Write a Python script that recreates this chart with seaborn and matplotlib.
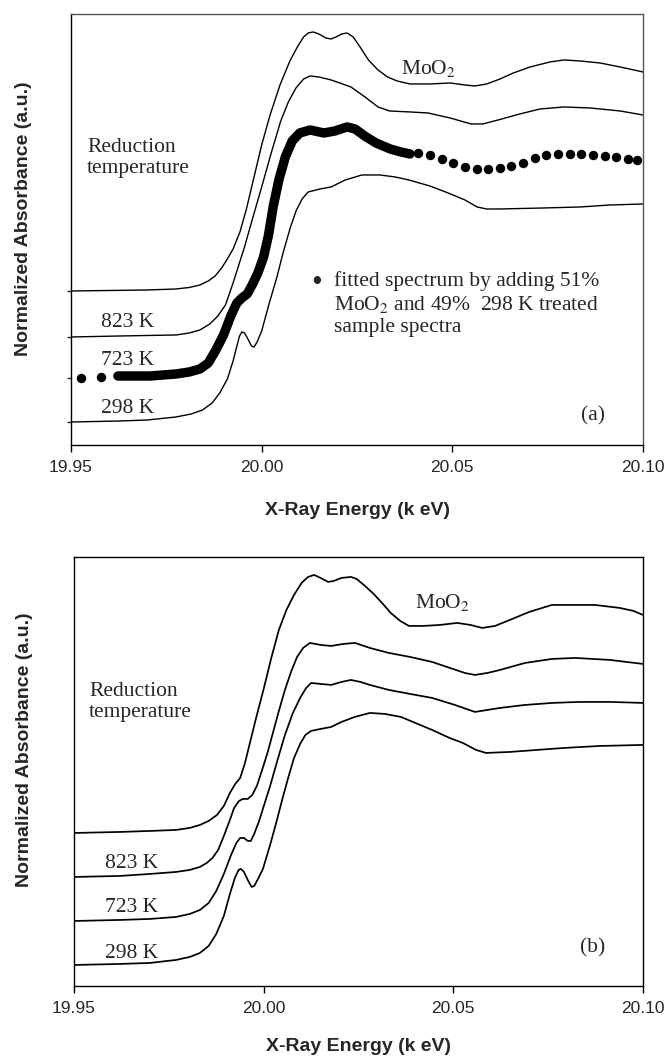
import matplotlib
matplotlib.use("Agg")
import matplotlib.pyplot as plt
import seaborn as sns

sns.set_theme(style="white")
plt.rcParams['font.family'] = ['Liberation Sans', 'DejaVu Sans']
plt.rcParams['mathtext.fontset'] = 'stix'

# ---------------- panel (a) data : energy (keV) / normalized absorbance (stacked, a.u.)
a_moo2_E = [19.9500, 19.9600, 19.9700, 19.9775, 19.9810, 19.9838, 19.9860, 19.9878, 19.9895,
            19.9910, 19.9925, 19.9943, 19.9960, 19.9980, 20.0000, 20.0022, 20.0048, 20.0074,
            20.0095, 20.0110, 20.0122, 20.0135, 20.0150, 20.0168, 20.0182, 20.0195, 20.0210,
            20.0224, 20.0240, 20.0258, 20.0280, 20.0305, 20.0330, 20.0355, 20.0389, 20.0441,
            20.0494, 20.0533, 20.0559, 20.0590, 20.0625, 20.0660, 20.0704, 20.0756, 20.0793,
            20.0835, 20.0887, 20.0940, 20.1000]
a_moo2_A = [1.54, 1.545, 1.55, 1.56, 1.575, 1.60, 1.64, 1.69, 1.77,
            1.86, 1.96, 2.13, 2.36, 2.68, 3.00, 3.30, 3.60, 3.84,
            3.99, 4.08, 4.12, 4.13, 4.11, 4.07, 4.06, 4.08, 4.11,
            4.12, 4.08, 3.98, 3.85, 3.75, 3.68, 3.64, 3.61, 3.61,
            3.62, 3.60, 3.59, 3.61, 3.66, 3.72, 3.78, 3.83, 3.85,
            3.84, 3.82, 3.78, 3.73]

a_823_E = [19.9500, 19.9628, 19.9700, 19.9775, 19.9810, 19.9838, 19.9864, 19.9885, 19.9905,
           19.9925, 19.9940, 19.9955, 19.9975, 20.0000, 20.0025, 20.0050, 20.0070, 20.0090,
           20.0110, 20.0127, 20.0150, 20.0182, 20.0205, 20.0234, 20.0271, 20.0305, 20.0335,
           20.0390, 20.0436, 20.0494, 20.0549, 20.0580, 20.0620, 20.0677, 20.0730, 20.0793,
           20.0861, 20.0940, 20.1000]
a_823_A = [1.08, 1.09, 1.095, 1.10, 1.12, 1.15, 1.21, 1.29, 1.40,
           1.62, 1.80, 1.98, 2.25, 2.58, 2.92, 3.24, 3.43, 3.57,
           3.66, 3.69, 3.68, 3.65, 3.62, 3.58, 3.48, 3.38, 3.34,
           3.33, 3.32, 3.27, 3.21, 3.21, 3.25, 3.31, 3.36, 3.38,
           3.37, 3.34, 3.30]

# fitted spectrum (51 % MoO2 + 49 % 298 K) - finely sampled edge region
a_fit_E = [19.9623, 19.9707, 19.9775, 19.9810, 19.9838, 19.9860, 19.9880, 19.9900, 19.9920,
           19.9935, 19.9948, 19.9962, 19.9975, 19.9990, 20.0005, 20.0018, 20.0030, 20.0045,
           20.0062, 20.0080, 20.0100, 20.0127, 20.0163, 20.0192, 20.0224, 20.0245, 20.0270,
           20.0300, 20.0337, 20.0365, 20.0389]
a_fit_A = [0.69, 0.69, 0.71, 0.73, 0.76, 0.82, 0.95, 1.10, 1.30,
           1.42, 1.47, 1.51, 1.60, 1.72, 1.88, 2.10, 2.38, 2.65,
           2.88, 3.04, 3.12, 3.15, 3.12, 3.14, 3.18, 3.16, 3.09,
           3.02, 2.96, 2.93, 2.91]
# fitted spectrum - coarsely sampled points (pre-edge and EXAFS region)
a_fitpts_E = [19.9526, 19.9579, 20.0410, 20.0441, 20.0473, 20.0502, 20.0533, 20.0565, 20.0594,
              20.0625, 20.0654, 20.0685, 20.0717, 20.0746, 20.0777, 20.0809, 20.0837, 20.0869,
              20.0900, 20.0929, 20.0961, 20.0984]
a_fitpts_A = [0.67, 0.68, 2.92, 2.90, 2.86, 2.82, 2.78, 2.76, 2.76,
              2.77, 2.79, 2.82, 2.87, 2.90, 2.91, 2.91, 2.91, 2.90,
              2.89, 2.88, 2.86, 2.85]

a_298_E = [19.9500, 19.9628, 19.9700, 19.9775, 19.9815, 19.9845, 19.9870, 19.9890, 19.9910,
           19.9925, 19.9935, 19.9942, 19.9948, 19.9955, 19.9964, 19.9973, 19.9980, 19.9988,
           20.0000, 20.0020, 20.0040, 20.0056, 20.0074, 20.0090, 20.0106, 20.0122, 20.0153,
           20.0182, 20.0219, 20.0263, 20.0310, 20.0350, 20.0386, 20.0441, 20.0489, 20.0533,
           20.0565, 20.0590, 20.0625, 20.0740, 20.0835, 20.0913, 20.1000]
a_298_A = [0.23, 0.24, 0.25, 0.28, 0.31, 0.35, 0.42, 0.52, 0.66,
           0.84, 0.99, 1.09, 1.13, 1.12, 1.06, 0.99, 0.98, 1.03,
           1.14, 1.42, 1.68, 1.92, 2.16, 2.34, 2.46, 2.53, 2.56,
           2.58, 2.65, 2.70, 2.70, 2.68, 2.65, 2.59, 2.52, 2.45,
           2.38, 2.36, 2.36, 2.37, 2.38, 2.40, 2.41]

# ---------------- panel (b) data
b_moo2_E = [19.9503, 19.9621, 19.9700, 19.9769, 19.9805, 19.9832, 19.9855, 19.9877, 19.9895,
            19.9911, 19.9925, 19.9938, 19.9950, 19.9965, 19.9980, 20.0000, 20.0020, 20.0040,
            20.0060, 20.0080, 20.0100, 20.0117, 20.0133, 20.0150, 20.0170, 20.0185, 20.0205,
            20.0230, 20.0245, 20.0267, 20.0290, 20.0312, 20.0335, 20.0360, 20.0383, 20.0420,
            20.0465, 20.0510, 20.0545, 20.0576, 20.0610, 20.0649, 20.0700, 20.0760, 20.0831,
            20.0873, 20.0939, 20.0975, 20.1000]
b_moo2_A = [1.53, 1.54, 1.55, 1.56, 1.58, 1.61, 1.65, 1.71, 1.80,
            1.93, 2.02, 2.08, 2.22, 2.45, 2.68, 2.97, 3.28, 3.56,
            3.76, 3.91, 4.03, 4.09, 4.11, 4.08, 4.04, 4.05, 4.08,
            4.09, 4.07, 4.00, 3.92, 3.83, 3.73, 3.65, 3.60, 3.60,
            3.61, 3.63, 3.61, 3.58, 3.60, 3.66, 3.74, 3.81, 3.81,
            3.81, 3.78, 3.75, 3.71]

b_823_E = [19.9503, 19.9621, 19.9700, 19.9769, 19.9805, 19.9832, 19.9850, 19.9865, 19.9880,
           19.9895, 19.9910, 19.9922, 19.9935, 19.9945, 19.9958, 19.9970, 19.9982, 19.9995,
           20.0010, 20.0025, 20.0040, 20.0056, 20.0072, 20.0088, 20.0104, 20.0122, 20.0150,
           20.0178, 20.0210, 20.0241, 20.0280, 20.0330, 20.0386, 20.0444, 20.0491, 20.0530,
           20.0557, 20.0590, 20.0623, 20.0689, 20.0760, 20.0821, 20.0913, 20.1000]
b_823_A = [1.09, 1.10, 1.12, 1.14, 1.16, 1.19, 1.23, 1.28, 1.36,
           1.50, 1.65, 1.78, 1.85, 1.87, 1.87, 1.91, 2.00, 2.15,
           2.33, 2.54, 2.75, 2.96, 3.14, 3.29, 3.38, 3.43, 3.41,
           3.40, 3.42, 3.43, 3.38, 3.33, 3.29, 3.24, 3.18, 3.13,
           3.11, 3.13, 3.16, 3.23, 3.27, 3.28, 3.26, 3.22]

b_723_E = [19.9503, 19.9621, 19.9700, 19.9769, 19.9805, 19.9832, 19.9855, 19.9875, 19.9895,
           19.9914, 19.9928, 19.9938, 19.9948, 19.9958, 19.9966, 19.9975, 19.9988, 20.0002,
           20.0017, 20.0035, 20.0056, 20.0077, 20.0096, 20.0112, 20.0125, 20.0150, 20.0178,
           20.0205, 20.0230, 20.0255, 20.0280, 20.0330, 20.0386, 20.0444, 20.0504, 20.0557,
           20.0590, 20.0623, 20.0689, 20.0760, 20.0831, 20.0913, 20.1000]
b_723_A = [0.65, 0.66, 0.67, 0.69, 0.72, 0.76, 0.83, 0.95, 1.12,
           1.31, 1.43, 1.48, 1.48, 1.45, 1.45, 1.52, 1.65, 1.82,
           2.00, 2.24, 2.51, 2.73, 2.88, 2.98, 3.03, 3.02, 3.01,
           3.04, 3.06, 3.04, 3.01, 2.96, 2.92, 2.88, 2.81, 2.74,
           2.76, 2.78, 2.81, 2.83, 2.84, 2.84, 2.83]

b_298_E = [19.9503, 19.9621, 19.9700, 19.9769, 19.9805, 19.9832, 19.9855, 19.9875, 19.9895,
           19.9911, 19.9924, 19.9934, 19.9940, 19.9948, 19.9958, 19.9968, 19.9975, 19.9985,
           19.9998, 20.0017, 20.0035, 20.0050, 20.0066, 20.0080, 20.0096, 20.0110, 20.0125,
           20.0150, 20.0178, 20.0205, 20.0240, 20.0280, 20.0320, 20.0362, 20.0400, 20.0444,
           20.0490, 20.0525, 20.0560, 20.0586, 20.0649, 20.0720, 20.0792, 20.0887, 20.1000]
b_298_A = [0.21, 0.22, 0.23, 0.26, 0.29, 0.33, 0.40, 0.52, 0.70,
           0.92, 1.08, 1.16, 1.17, 1.14, 1.06, 0.99, 1.00, 1.07,
           1.17, 1.41, 1.66, 1.88, 2.10, 2.28, 2.42, 2.51, 2.55,
           2.57, 2.59, 2.64, 2.69, 2.73, 2.72, 2.69, 2.63, 2.56,
           2.48, 2.43, 2.36, 2.33, 2.34, 2.36, 2.38, 2.40, 2.41]

x_ticks = [19.95, 20.00, 20.05, 20.10]
x_ticklabels = ["19.95", "20.00", "20.05", "20.10"]
a_baselines = [0.23, 0.67, 1.08, 1.54]
x_label = "X-Ray Energy (k eV)"
y_label = "Normalized Absorbance (a.u.)"
temp_labels = ["823 K", "723 K", "298 K"]

SERIF = ['Liberation Serif', 'DejaVu Serif']
FS = 15.5

fig = plt.figure(figsize=(6.68, 10.58), dpi=100)
axA = fig.add_axes([0.1063, 0.5794, 0.8563, 0.4074])
axB = fig.add_axes([0.1108, 0.0681, 0.8518, 0.4055])


def curve(ax, E, A, lw=1.0):
    sns.lineplot(x=E, y=A, ax=ax, color='black', lw=lw, sort=False, estimator=None,
                 solid_joinstyle='round')


# panel (a)
curve(axA, a_moo2_E, a_moo2_A)
curve(axA, a_823_E, a_823_A)
curve(axA, a_298_E, a_298_A)
sns.lineplot(x=a_fit_E, y=a_fit_A, ax=axA, color='black', lw=6.8, sort=False,
             estimator=None, solid_capstyle='round', solid_joinstyle='round')
sns.scatterplot(x=a_fitpts_E, y=a_fitpts_A, ax=axA, color='black', s=46, linewidth=0)

# panel (b)
curve(axB, b_moo2_E, b_moo2_A, 1.25)
curve(axB, b_823_E, b_823_A, 1.25)
curve(axB, b_723_E, b_723_A, 1.25)
curve(axB, b_298_E, b_298_A, 1.25)

for ax, ylim in ((axA, (0, 4.31)), (axB, (0, 4.29))):
    ax.set_xlim(19.95, 20.10)
    ax.set_ylim(*ylim)
    ax.set_xticks(x_ticks)
    ax.set_xticklabels(x_ticklabels, fontsize=12.5)
    ax.tick_params(axis='x', bottom=True, direction='out', length=5, width=1.0,
                   pad=6, color='black')
    for s in ax.spines.values():
        s.set_visible(True)
        s.set_color('black')
        s.set_linewidth(1.0)
    ax.set_xlabel(x_label, fontsize=14, fontweight='bold')
    ax.set_ylabel(y_label, fontsize=14, fontweight='bold')

for side in ('top', 'right'):
    axA.spines[side].set_color('#555555')

axA.set_yticks(a_baselines)
axA.set_yticklabels([])
axA.tick_params(axis='y', left=True, direction='out', length=3, width=1.0)
axB.set_yticks([])

axA.xaxis.set_label_coords(0.5, -0.132)
axB.xaxis.set_label_coords(0.5, -0.121)
axA.yaxis.set_label_coords(-0.068, 0.524)
axB.yaxis.set_label_coords(-0.072, 0.55)

# annotations panel (a)
axA.text(20.0365, 3.76, "MoO$_2$", family=SERIF, fontsize=FS, va='center', ha='left')
axA.text(19.9542, 2.87, "Reduction\ntemperature", family=SERIF, fontsize=FS,
         va='center', ha='left', linespacing=1.15)
for lab, yy in zip(temp_labels, [1.22, 0.84, 0.36]):
    axA.text(19.9579, yy, lab, family=SERIF, fontsize=FS, va='center', ha='left')
axA.text(20.0143, 1.61, "\u2022", family=SERIF, fontsize=22, va='center', ha='center')
axA.text(20.0190, 1.74, "fitted spectrum by adding 51%\nMoO$_2$ and 49%  298 K treated\nsample spectra",
         family=SERIF, fontsize=FS, va='top', ha='left', linespacing=1.2)
axA.text(20.0869, 0.29, "(a)", family=SERIF, fontsize=FS, va='center', ha='center')

# annotations panel (b)
axB.text(20.0399, 3.83, "MoO$_2$", family=SERIF, fontsize=FS, va='center', ha='left')
axB.text(19.9540, 2.84, "Reduction\ntemperature", family=SERIF, fontsize=FS,
         va='center', ha='left', linespacing=1.15)
for lab, yy in zip(temp_labels, [1.22, 0.78, 0.32]):
    axB.text(19.9582, yy, lab, family=SERIF, fontsize=FS, va='center', ha='left')
axB.text(20.0866, 0.38, "(b)", family=SERIF, fontsize=FS, va='center', ha='center')

fig.savefig("out.png", dpi=100)
